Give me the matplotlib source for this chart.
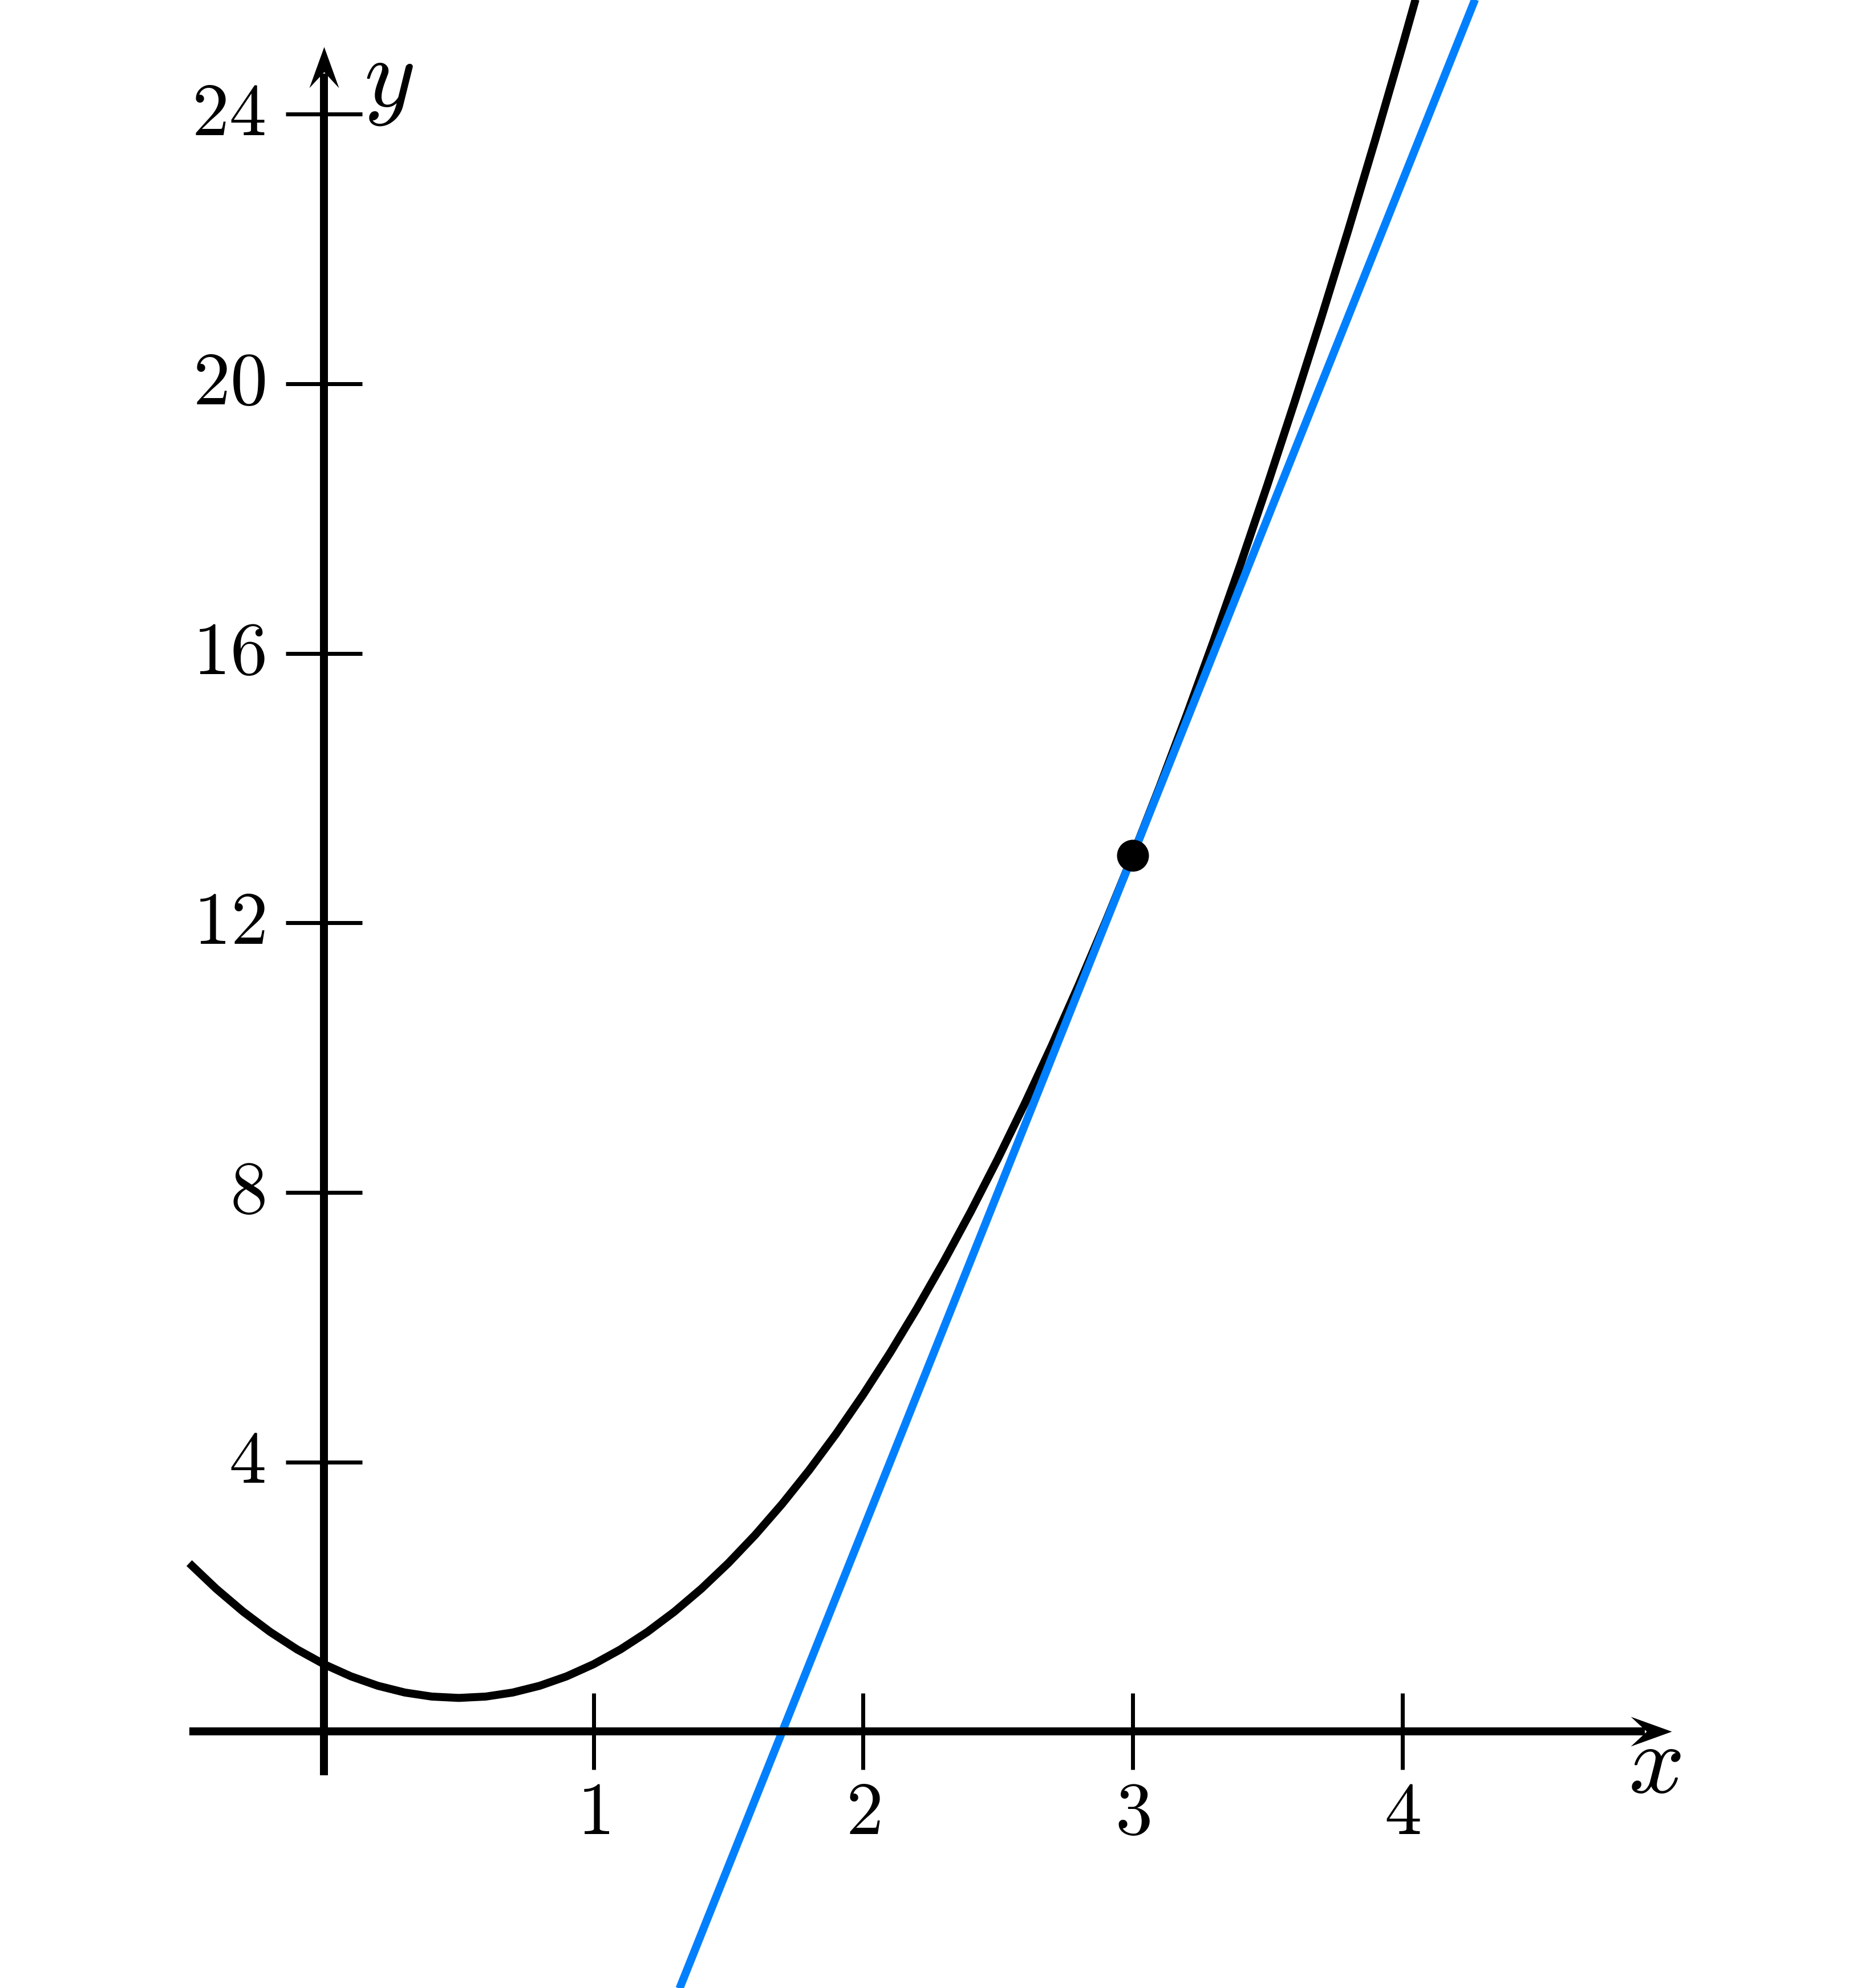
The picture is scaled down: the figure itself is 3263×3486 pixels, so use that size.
import matplotlib.pyplot as plt
from matplotlib.path import Path

# parabola (vertex near (0.5, 0.5), passes (0, 1) and (3, 13))
curve_x = [-0.5, -0.4, -0.3, -0.2, -0.1, 0.0, 0.1, 0.2, 0.3, 0.4,
           0.5, 0.6, 0.7, 0.8, 0.9, 1.0, 1.1, 1.2, 1.3, 1.4,
           1.5, 1.6, 1.7, 1.8, 1.9, 2.0, 2.1, 2.2, 2.3, 2.4,
           2.5, 2.6, 2.7, 2.8, 2.9, 3.0, 3.1, 3.2, 3.3, 3.4,
           3.5, 3.6, 3.7, 3.8, 3.9, 4.0, 4.1]
curve_y = [2.5, 2.12, 1.78, 1.48, 1.22, 1.0, 0.82, 0.68, 0.58, 0.52,
           0.5, 0.52, 0.58, 0.68, 0.82, 1.0, 1.22, 1.48, 1.78, 2.12,
           2.5, 2.92, 3.38, 3.88, 4.42, 5.0, 5.62, 6.28, 6.98, 7.72,
           8.5, 9.32, 10.18, 11.08, 12.02, 13.0, 14.02, 15.08, 16.18, 17.32,
           18.5, 19.72, 20.98, 22.28, 23.62, 25.0, 26.42]

# tangent line at the marked point
tangent_x = [1.2, 4.4]
tangent_y = [-5.0, 27.0]

point_x = [3]
point_y = [13]

x_ticks = [1, 2, 3, 4]
y_ticks = [4, 8, 12, 16, 20, 24]

PX = 72 / 100  # points per pixel at dpi 100

plt.rcParams['mathtext.fontset'] = 'cm'

fig = plt.figure(figsize=(32.63, 34.86), dpi=100)
ax = fig.add_axes([0, 0, 1, 1])
ax.set_xlim(-1.202, 5.702)
ax.set_ylim(-3.804, 25.693)

for side in ['top', 'right']:
    ax.spines[side].set_visible(False)
ax.spines['left'].set_position(('data', 0))
ax.spines['bottom'].set_position(('data', 0))
ax.spines['left'].set_bounds(-0.65, 24.6)
ax.spines['bottom'].set_bounds(-0.5, 4.9)
for side in ['left', 'bottom']:
    ax.spines[side].set_linewidth(14 * PX)
    ax.spines[side].set_capstyle('butt')

ax.set_xticks(x_ticks, ['$%d$' % t for t in x_ticks])
ax.set_yticks(y_ticks, ['$%d$' % t for t in y_ticks])
ax.tick_params(direction='inout', length=134 * PX, width=7 * PX, labelsize=94)
ax.tick_params(axis='x', pad=9)
ax.tick_params(axis='y', pad=26)
for lab in ax.get_yticklabels():
    lab.set_verticalalignment('center')

# stealth-style arrow heads, tip at the path origin
codes = [Path.MOVETO, Path.LINETO, Path.LINETO, Path.LINETO, Path.CLOSEPOLY]
x_head = Path([(0, 0), (-72, 26), (-44, 0), (-72, -26), (0, 0)], codes)
y_head = Path([(0, 0), (-26, -72), (0, -44), (26, -72), (0, 0)], codes)
ax.plot([5.0], [0], marker=x_head, markersize=144 * PX, color='black',
        markeredgewidth=0, clip_on=False, zorder=3)
ax.plot([0], [25.0], marker=y_head, markersize=144 * PX, color='black',
        markeredgewidth=0, clip_on=False, zorder=3)

ax.plot(curve_x, curve_y, color='black', lw=14 * PX, solid_capstyle='butt')
ax.plot(tangent_x, tangent_y, color='#0080ff', lw=14 * PX, solid_capstyle='butt')
ax.plot(point_x, point_y, 'o', color='black', markersize=56 * PX,
        markeredgewidth=0, zorder=4)

ax.text(4.937, -0.902, '$x$', fontsize=124, ha='center', va='baseline')
ax.text(0.239, 24.12, '$y$', fontsize=124, ha='center', va='baseline')

fig.savefig('out.png', dpi=100)
